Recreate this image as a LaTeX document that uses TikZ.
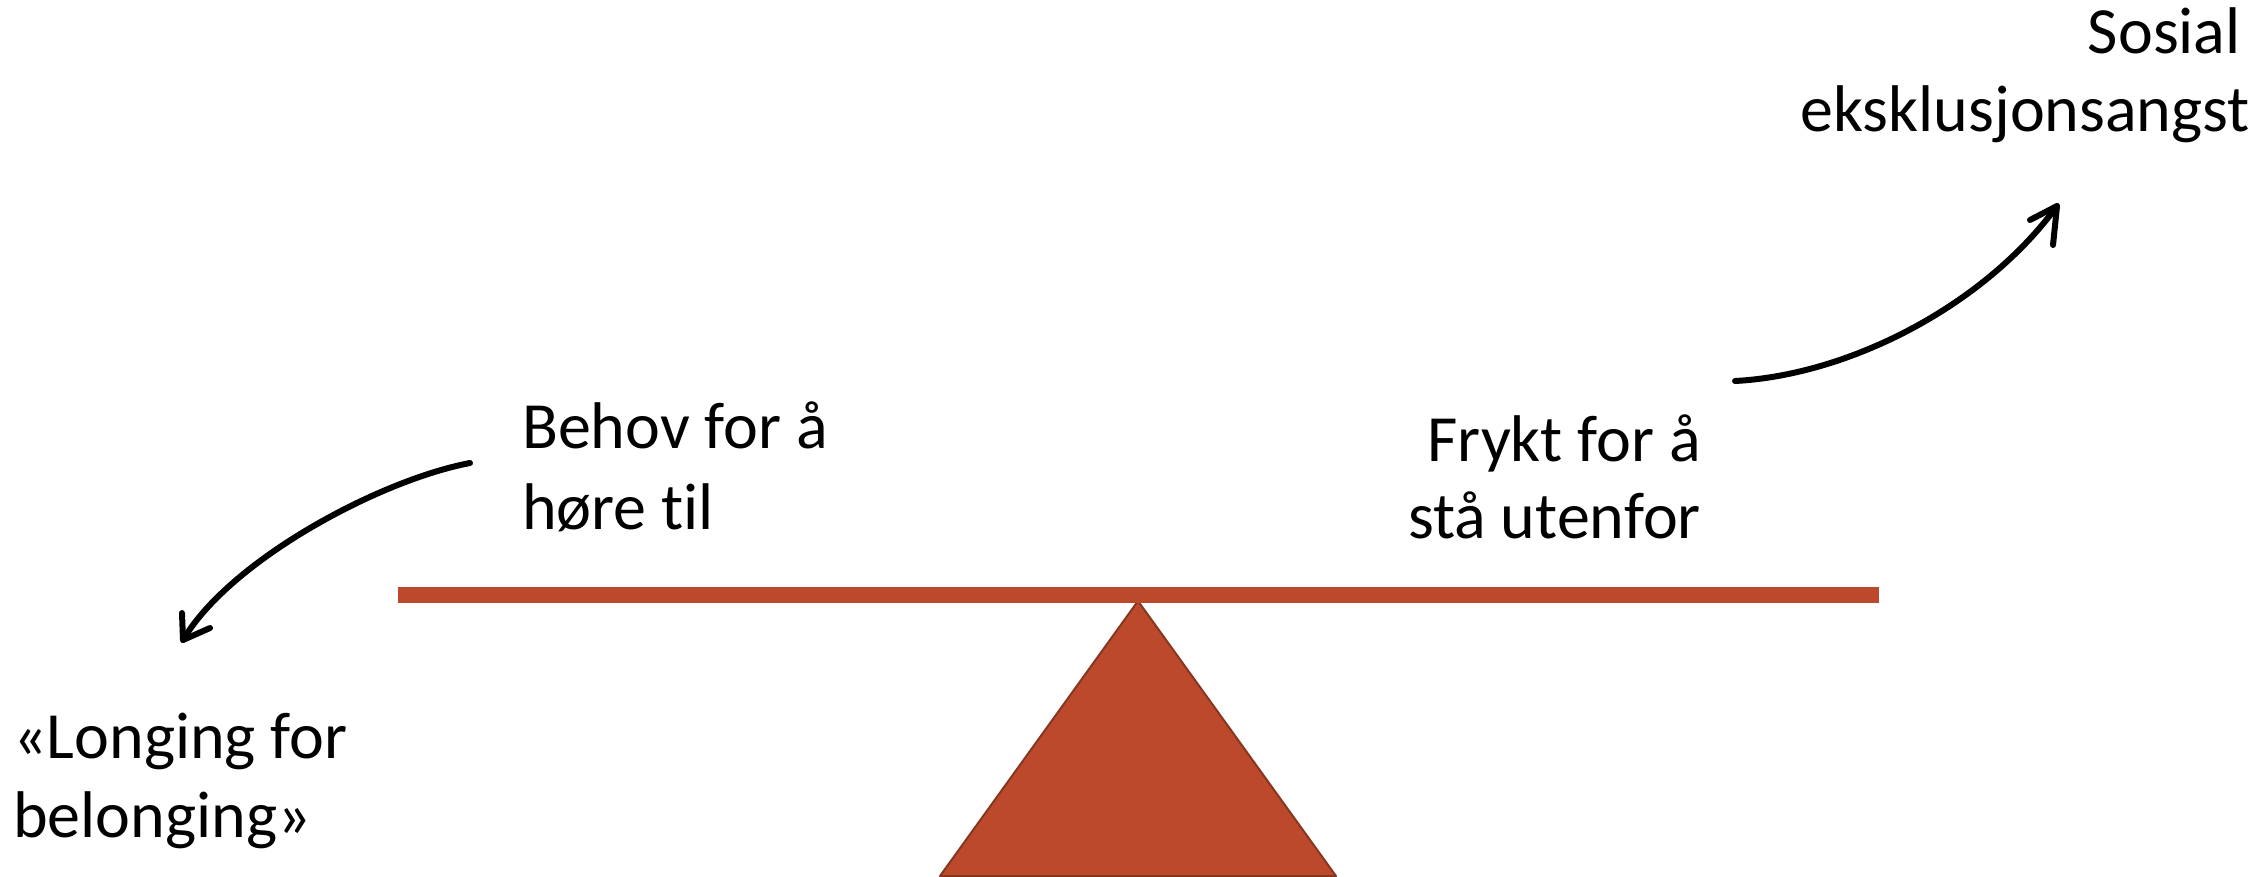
\documentclass[tikz,border=0pt]{standalone}
\usepackage{fontspec}
\setmainfont{Carlito}[Ligatures=NoCommon]
\definecolor{barred}{RGB}{188,73,43}
\definecolor{baredge}{RGB}{135,55,32}
\begin{document}
\begin{tikzpicture}[x=1pt,y=-1pt,
  lbl/.style={inner sep=0pt,font=\fontsize{66}{79}\selectfont},
  sketch/.style={line width=6pt,line cap=round,line join=round,black}]
\useasboundingbox (0,0) rectangle (2252,876);
% fulcrum
\coordinate (apex) at (1138,601);
\coordinate (bl) at (940,876);
\coordinate (br) at (1336,876);
\fill[barred,draw=baredge,line width=2pt,line join=round] (apex) -- (br) -- (bl) -- cycle;
% beam
\fill[barred] (398,587) rectangle (1879,603);
% labels
\node[lbl,anchor=base west] (behov1) at (522,448) {Behov for å};
\node[lbl,anchor=base west] (behov2) at (522,529) {høre til};
\node[lbl,anchor=base east] (frykt1) at (1701,461) {Frykt for å};
\node[lbl,anchor=base east] (frykt2) at (1701,538) {stå utenfor};
\node[lbl,anchor=base east] (sosial1) at (2241,53) {Sosial};
\node[lbl,anchor=base east] (sosial2) at (2250,131) {eksklusjonsangst};
\node[lbl,anchor=base west] (long1) at (13,758) {«Longing for};
\node[lbl,anchor=base west] (long2) at (13,837) {belonging»};
% left arrow
\coordinate (la0) at (470,463);
\coordinate (la1) at (183,640);
\coordinate (lh1) at (182,613);
\coordinate (lh2) at (210,628);
\draw[sketch] (la0) .. controls (380,480) and (230,560) .. (la1);
\draw[sketch] (lh1) -- (la1) -- (lh2);
% right arrow
\coordinate (ra0) at (1735,381);
\coordinate (ra1) at (2057,206);
\coordinate (rh1) at (2030,220);
\coordinate (rh2) at (2053,245);
\draw[sketch] (ra0) .. controls (1850,375) and (1985,305) .. (ra1);
\draw[sketch] (rh1) -- (ra1) -- (rh2);
\end{tikzpicture}
\end{document}
